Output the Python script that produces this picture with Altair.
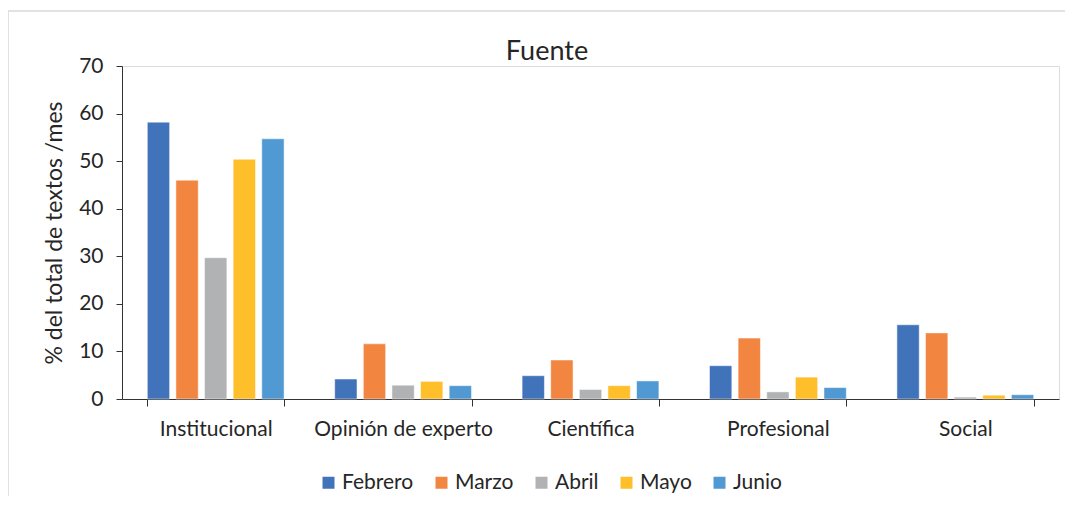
import altair as alt
import pandas as pd

title_text = "Fuente"
categories = ["Institucional", "Opinión de experto", "Científica", "Profesional", "Social"]
months = ["Febrero", "Marzo", "Abril", "Mayo", "Junio"]
febrero = [58.2, 4.2, 4.9, 7.0, 15.6]
marzo = [46.0, 11.6, 8.2, 12.8, 13.9]
abril = [29.7, 2.9, 2.0, 1.5, 0.4]
mayo = [50.4, 3.7, 2.8, 4.6, 0.8]
junio = [54.7, 2.8, 3.8, 2.4, 0.9]
colors = ["#4173BA", "#F28540", "#B1B2B4", "#FFBF2A", "#5099D3"]
y_ticks = [0, 10, 20, 30, 40, 50, 60, 70]

series = [febrero, marzo, abril, mayo, junio]
rows = []
for m, vals in zip(months, series):
    for c, v in zip(categories, vals):
        rows.append({"Fuente": c, "Mes": m, "Valor": v})
df = pd.DataFrame(rows)

FONT = "Lato"
TXT = "#262626"

bars = alt.Chart(df).mark_bar(stroke="white", strokeWidth=0.5).encode(
    x=alt.X("Fuente:N", sort=categories,
            scale=alt.Scale(paddingInner=0.27, paddingOuter=0.135),
            axis=alt.Axis(title=None, labelAngle=0, tickBand="extent",
                          labelFontSize=21, labelPadding=12, tickSize=7,
                          domainColor="#333333", tickColor="#333333",
                          labelColor=TXT, labelFont=FONT)),
    xOffset=alt.XOffset("Mes:N", sort=months,
                        scale=alt.Scale(paddingInner=0.22, paddingOuter=0)),
    y=alt.Y("Valor:Q", scale=alt.Scale(domain=[0, 70], nice=False),
            axis=alt.Axis(title="% del total de textos /mes", values=y_ticks,
                          grid=False, tickSize=6, labelFontSize=21,
                          labelPadding=13, titleFontSize=23, titlePadding=12,
                          titleFontWeight="normal", titleColor=TXT,
                          domainColor="#333333", tickColor="#333333",
                          labelColor=TXT, labelFont=FONT, titleFont=FONT)),
    color=alt.Color("Mes:N", sort=months,
                    scale=alt.Scale(domain=months, range=colors),
                    legend=alt.Legend(title=None, orient="none", direction="horizontal",
                                      legendX=196, legendY=406,
                                      symbolType="square", symbolSize=144,
                                      symbolStrokeWidth=0, labelFontSize=21,
                                      labelOffset=3, columnPadding=17,
                                      labelFont=FONT, labelColor=TXT,
                                      padding=0)),
)

frame = alt.Chart(pd.DataFrame({"a": [0]})).mark_rect(
    fill="none", stroke="#D9D9D9", strokeWidth=1.5, clip=False
).encode(
    x=alt.value(-114), x2=alt.value(1000), y=alt.value(-55), y2=alt.value(500)
)

title = alt.Chart(pd.DataFrame({"t": [title_text]})).mark_text(
    font=FONT, fontSize=27, color=TXT, align="center", baseline="alphabetic"
).encode(
    text="t:N", x=alt.value(425), y=alt.value(-6)
)

chart = alt.layer(frame, bars, title).properties(
    width=937, height=333,
    autosize=alt.AutoSizeParams(type="none"),
    padding={"left": 114, "top": 58, "right": 6, "bottom": 97},
).configure_view(stroke=None).configure(background="white")

chart.save("out.html", embed_options={"renderer": "svg", "actions": False})
